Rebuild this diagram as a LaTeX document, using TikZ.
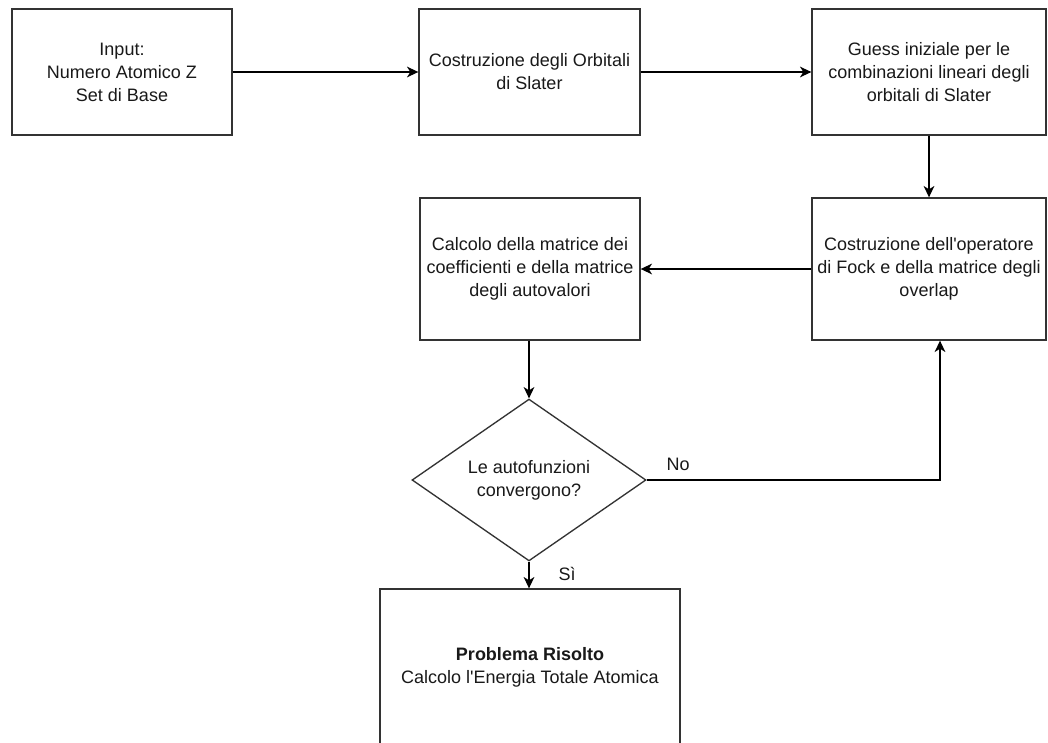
\documentclass[tikz,border=0pt]{standalone}
\usepackage{fontspec}
\setmainfont{Liberation Sans}[Ligatures=TeXOff]
\usetikzlibrary{arrows.meta,shapes.geometric,calc}
\newcommand{\apos}{\char"0027\relax}
\begin{document}
\begin{tikzpicture}[x=0.75pt,y=-0.75pt,
  txt/.style={font=\fontsize{13.5}{17.25}\selectfont, align=center, text=black!90},
  box/.style={txt, draw=black!80, line width=1pt, rectangle, inner sep=0pt},
  dec/.style={txt, draw=black!80, line width=1pt, diamond, inner sep=0pt, minimum width=175.5pt, minimum height=116pt},
  conn/.style={draw=black, line width=1.1pt, -{Stealth[length=8.5pt,width=8pt,inset=2.5pt]}},
  lbl/.style={font=\fontsize{13.5}{17.25}\selectfont, text=black!90, inner sep=0pt}
]
\clip (0,0) rectangle (1048,742);
\fill[white] (0,0) rectangle (1048,742);

\node[box, minimum width=165pt, minimum height=94.5pt] (b1) at (122,72) {Input:\\Numero Atomico Z\\Set di Base};
\node[box, minimum width=165.75pt, minimum height=94.5pt] (b2) at (529.5,72) {Costruzione degli Orbitali\\di Slater};
\node[box, minimum width=175.5pt, minimum height=94.5pt] (b3) at (929,72) {Guess iniziale per le\\combinazioni lineari degli\\orbitali di Slater};
\node[box, minimum width=165pt, minimum height=106.5pt] (b4) at (530,269) {Calcolo della matrice dei\\coefficienti e della matrice\\degli autovalori};
\node[box, minimum width=175.5pt, minimum height=106.5pt] (b5) at (929,269) {Costruzione dell\apos operatore\\di Fock e della matrice degli\\overlap};
\node[dec] (d) at (529,480) {Le autofunzioni\\convergono?};
\node[box, minimum width=225pt, minimum height=117pt] (b6) at (530,667) {\textbf{Problema Risolto}\\Calcolo l\apos Energia Totale Atomica};

\coordinate (nc) at (940,480);

\draw[conn] (b1) -- (b2);
\draw[conn] (b2) -- (b3);
\draw[conn] (b3) -- (b5);
\draw[conn] (b5) -- (b4);
\draw[conn] (b4.south -| d.north) -- (d.north);
\draw[conn] (d.east) -- (nc) -- (nc |- b5.south);
\draw[conn] (d.south) -- (d.south |- b6.north);

\node[lbl] (no) at (678,464) {No};
\node[lbl] (si) at (567,574) {Sì};
\end{tikzpicture}
\end{document}
